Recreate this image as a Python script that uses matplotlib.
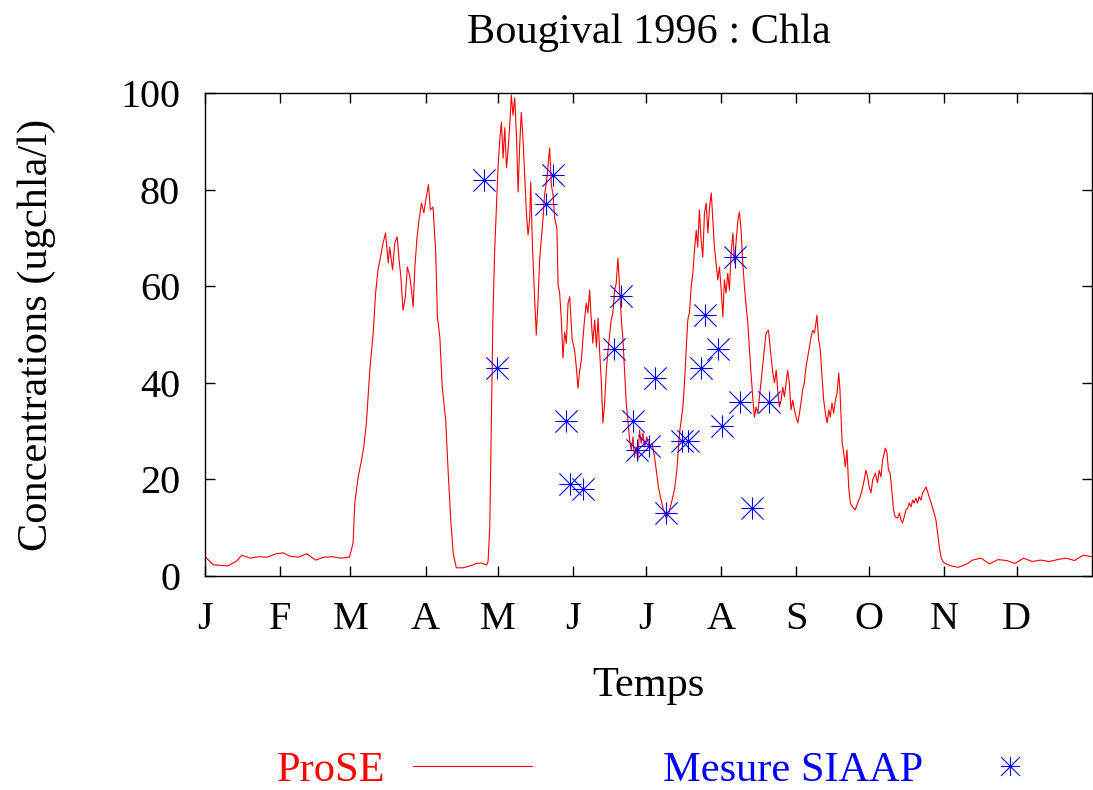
import matplotlib
matplotlib.use('Agg')
import matplotlib.pyplot as plt
from matplotlib.path import Path

plt.rcParams['font.family'] = ['Liberation Serif', 'DejaVu Serif']

# ProSE model output, day of year 1996 / chla (ug/l)
prose_day = [
    0, 3.5, 9.4, 12.8, 15.2, 18.7, 22.2, 25.7, 29.2, 32.3, 35.0, 38.6, 42.0, 45.6, 49.1, 52.6, 56.1, 59.6,
    61.1, 61.8, 63.2, 64.6, 65.5, 66.6, 68.0, 69.4, 70.4, 71.4, 72.4, 73.5, 74.5, 75.6, 76.2, 77.4, 78.3,
    79.3, 80.1, 80.8, 81.7, 82.7, 83.5, 84.5, 85.2, 85.9, 86.6, 87.5, 88.3, 89.3, 90.3, 91.1, 92.2, 93.0,
    94.1, 95.2, 95.9, 96.9, 97.9, 99.3, 100.3, 101.4, 102.4, 103.7, 106.4, 108.0, 110.0, 112.1, 114.0,
    116.2, 116.8, 117.5, 118.2, 118.8, 119.5, 120.5, 120.9, 121.6, 122.3, 123.0, 123.7, 124.4, 125.0,
    125.7, 126.4, 127.1, 127.8, 128.5, 129.2, 129.8, 130.5, 131.2, 131.9, 132.6, 133.3, 134.0, 134.4,
    135.1, 136.0, 136.7, 137.4, 138.1, 138.8, 139.5, 140.1, 141.1, 142.2, 142.9, 143.6, 144.3, 145.2,
    145.7, 146.3, 147.0, 147.7, 148.4, 149.1, 149.8, 150.5, 151.5, 152.5, 153.2, 153.9, 154.6, 155.3,
    156.0, 156.6, 157.3, 158.0, 158.7, 159.4, 160.0, 160.8, 161.5, 162.2, 162.8, 163.5, 164.2, 164.9,
    165.6, 166.2, 166.9, 167.6, 168.3, 169.0, 169.7, 170.4, 171.1, 171.8, 172.4, 173.1, 173.8, 174.5,
    175.2, 175.9, 176.6, 177.2, 177.9, 178.6, 179.3, 180.0, 180.7, 181.4, 182.3, 183.4, 184.5, 185.5,
    186.2, 187.1, 188.2, 189.2, 190.3, 191.4, 192.4, 193.7, 194.7, 195.8, 197.2, 197.9, 198.6, 199.2,
    199.9, 200.6, 201.3, 202.0, 202.7, 203.3, 204.0, 204.7, 205.4, 206.1, 206.8, 207.5, 208.2, 208.9,
    209.6, 210.2, 210.9, 211.6, 212.3, 213.0, 213.7, 214.3, 215.0, 215.7, 216.4, 217.1, 217.8, 218.5,
    219.2, 219.9, 220.5, 221.2, 221.9, 222.6, 223.3, 224.0, 224.6, 225.3, 226.0, 226.7, 227.4, 228.1,
    228.8, 230.1, 231.5, 232.5, 233.6, 234.3, 235.0, 235.7, 236.3, 237.0, 237.7, 238.4, 239.1, 239.8,
    240.4, 241.1, 241.8, 242.5, 243.2, 243.9, 244.6, 245.3, 245.9, 246.6, 247.3, 248.0, 248.7, 249.4,
    250.1, 250.8, 251.5, 252.1, 252.5, 253.2, 253.9, 254.5, 255.3, 256.0, 256.7, 257.4, 258.0, 258.7,
    259.4, 260.1, 260.8, 261.5, 262.0, 262.9, 263.4, 264.2, 264.9, 265.6, 266.3, 267.2, 268.3, 269.3,
    270.3, 271.1, 272.0, 272.7, 273.4, 274.1, 274.8, 275.5, 276.6, 277.5, 278.2, 278.9, 279.6, 280.3,
    280.7, 281.4, 282.0, 282.7, 283.5, 284.1, 284.8, 285.8, 286.5, 287.2, 287.8, 288.5, 289.2, 289.9,
    290.6, 291.3, 292.0, 292.6, 293.3, 294.0, 294.7, 295.4, 296.1, 296.8, 297.5, 298.2, 298.8, 299.5,
    300.5, 301.6, 302.3, 303.0, 303.7, 304.6, 305.9, 307.8, 309.9, 310.9, 314.4, 316.7, 320.2, 323.7,
    327.2, 330.8, 334.3, 337.8, 341.3, 344.8, 348.3, 351.8, 355.3, 358.8, 362.3, 366.0,
]
prose_chla = [
    4.0, 2.3, 2.1, 3.0, 4.3, 3.7, 4.0, 3.9, 4.6, 4.8, 4.1, 3.9, 4.6, 3.3, 3.9, 4.0, 3.7, 3.9,
    6.8, 15.1, 20.5, 24.0, 26.7, 31.7, 42.6, 50.3, 58.6, 63.4, 66.0, 69.0, 71.0, 64.8, 68.1, 63.4, 69.0,
    70.2, 65.4, 62.0, 55.0, 57.8, 64.0, 62.0, 59.2, 55.7, 64.0, 70.2, 73.7, 77.2, 75.2, 77.8, 81.0, 75.8,
    76.4, 66.9, 53.6, 49.5, 39.1, 32.3, 21.9, 11.6, 4.8, 1.7, 1.7, 1.9, 2.2, 2.6, 2.7,
    2.3, 3.0, 10.0, 32.7, 53.4, 67.0, 79.5, 84.5, 89.9, 94.0, 86.5, 92.8, 84.5, 87.8,
    92.8, 99.6, 95.4, 99.0, 91.3, 79.5, 88.6, 96.0, 90.7, 83.0, 75.4, 70.6, 74.1, 81.6,
    68.5, 57.6, 49.9, 56.7, 65.8, 70.0, 74.1, 78.9, 82.4, 88.6, 81.0, 78.9, 74.1, 72.0,
    60.2, 58.8, 53.4, 45.1, 50.5, 48.2, 56.5, 57.8, 48.9, 46.8, 43.3, 38.9, 42.6, 44.7,
    49.5, 53.0, 56.5, 54.5, 59.2, 53.0, 48.2, 53.0, 47.4, 53.4, 46.8, 40.6, 31.7, 35.8,
    42.6, 46.2, 49.5, 53.0, 54.5, 59.2, 60.7, 65.8, 59.2, 53.0, 49.5, 42.6, 35.8, 32.3,
    28.2, 26.1, 28.8, 24.6, 26.7, 24.0, 30.2, 27.5, 29.6, 26.7, 28.8, 26.7, 27.5, 24.6,
    21.9, 18.4, 15.7, 13.7, 12.0, 13.0, 15.1, 17.8, 22.0, 29.6, 35.0, 40.6, 47.4, 53.0,
    54.5, 59.8, 62.7, 67.5, 71.6, 68.1, 75.8, 69.6, 66.0, 75.2, 77.2, 71.0, 76.4, 79.3,
    73.1, 68.1, 64.8, 61.3, 64.0, 59.2, 53.6, 61.3, 58.6, 62.7, 59.2, 66.9, 71.0, 64.8,
    69.6, 73.7, 75.4, 71.6, 64.8, 59.8, 55.7, 52.4, 47.4, 42.0, 37.1, 32.9, 35.0, 33.7,
    37.1, 43.3, 50.3, 50.9, 45.3, 42.0, 40.0, 42.6, 38.5, 35.0, 36.4, 39.1, 37.1, 40.0,
    42.6, 40.0, 34.4, 36.4, 34.4, 32.9, 31.7, 33.7, 35.8, 38.5, 40.0, 43.3, 45.3, 47.4,
    49.5, 50.9, 50.3, 52.4, 54.0, 48.9, 46.8, 42.0, 36.4, 33.7, 31.7, 34.4, 32.9, 35.8,
    33.7, 36.4, 37.9, 42.0, 38.5, 27.5, 26.1, 22.6, 26.1, 18.4, 15.1, 14.3, 13.7, 15.1,
    16.4, 17.8, 19.9, 21.9, 20.5, 18.4, 17.2, 19.9, 21.3, 19.3, 21.9, 20.5, 24.0, 25.5,
    26.5, 25.5, 21.9, 21.3, 17.2, 13.7, 12.2, 12.0, 13.0, 11.6, 11.0, 12.2, 13.7, 14.0,
    15.1, 14.3, 15.7, 15.1, 16.1, 15.1, 16.4, 15.7, 17.2, 17.8, 18.4, 17.4, 16.4, 15.3,
    13.7, 11.6, 8.9, 6.0, 3.9, 2.9, 2.5, 2.1, 1.9, 1.8, 2.5, 3.3, 3.7, 2.5,
    3.4, 3.2, 2.6, 3.7, 3.0, 3.3, 3.0, 3.4, 3.7, 3.2, 4.3, 4.0,
]

# SIAAP measurements
siaap_day = [115.0, 120.4, 140.6, 143.4, 148.8, 150.5, 155.8, 168.6, 171.5, 176.4, 178.1, 183.4,
             185.5, 190.4, 197.0, 199.1, 204.5, 206.5, 211.5, 213.5, 218.5, 220.9, 225.9, 232.9]
siaap_chla = [82, 43, 77, 83, 32, 19, 18, 47, 58, 32, 26, 27,
              41, 13, 28, 28, 43, 54, 47, 31, 66, 36, 14, 36]

month_start = [0, 31, 60, 91, 121, 152, 182, 213, 244, 274, 305, 335]
month_labels = ['J', 'F', 'M', 'A', 'M', 'J', 'J', 'A', 'S', 'O', 'N', 'D']

# gnuplot style asterisk: + and x together
asterisk = Path([(-1, 0), (1, 0), (0, -1), (0, 1), (-1, -1), (1, 1), (-1, 1), (1, -1)],
                [Path.MOVETO, Path.LINETO] * 4)

fig = plt.figure(figsize=(10.93, 7.90), dpi=100)
ax = fig.add_axes([205 / 1093, 1 - 576 / 790, 887 / 1093, 483 / 790])

ax.plot(prose_day, prose_chla, color='red', lw=0.8, label='ProSE')
ax.plot(siaap_day, siaap_chla, linestyle='none', marker=asterisk, markersize=16,
        markeredgewidth=0.8, color='blue', label='Mesure SIAAP')

ax.set_xlim(0, 366)
ax.set_ylim(0, 100)
ax.set_xticks(month_start)
ax.set_xticklabels(month_labels)
ax.set_yticks([0, 20, 40, 60, 80, 100])
ax.tick_params(direction='in', length=7, width=1, top=True, right=True, labelsize=29)
ax.tick_params(axis='x', pad=18)
ax.tick_params(axis='y', pad=18)
for s in ax.spines.values():
    s.set_linewidth(1)

ax.set_title('Bougival 1996 : Chla', fontsize=30.5, pad=36)
ax.set_xlabel('Temps', fontsize=30.5)
ax.set_ylabel('Concentrations (ugchla/l)', fontsize=30.5)
ax.xaxis.set_label_coords(0.5, -0.187)
ax.yaxis.set_label_coords(-0.168, 0.5)

fig.legend(loc='center', bbox_to_anchor=(0.616, 0.025), ncol=2, frameon=False,
           markerfirst=False, labelcolor='linecolor', fontsize=30.5, handlelength=2.8,
           handletextpad=0.65, columnspacing=3.1, markerscale=0.85, borderpad=0)

fig.savefig('out.png', dpi=100)
